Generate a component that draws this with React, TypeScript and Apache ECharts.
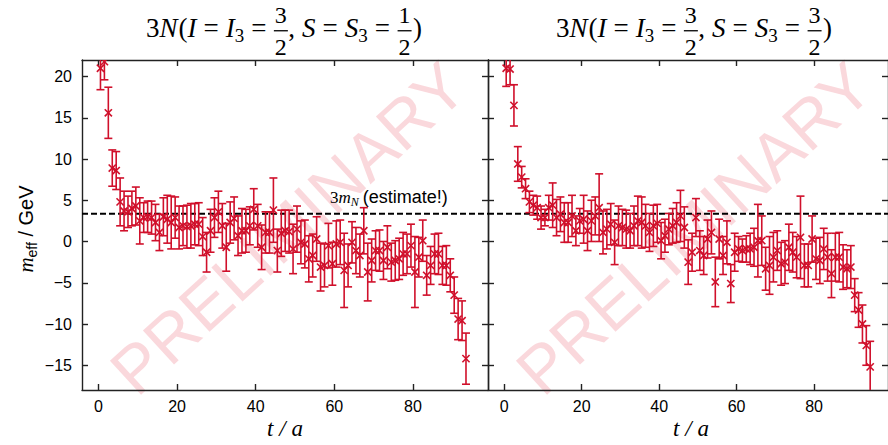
import React, { useEffect, useRef } from "react";
import * as echarts from "echarts";

// ---- axes ----
const X_MIN = -4.2;
const X_MAX = 99.1;
const Y_MIN = -18;
const Y_MAX = 22;
const X_TICKS = [0, 20, 40, 60, 80];
const Y_TICKS = [-15, -10, -5, 0, 5, 10, 15, 20];
const T_OFFSET = 0.5; // effective mass plotted at t + 1/2
const ESTIMATE_3MN = 3.35; // GeV

// ---- left panel: 3N(I=I3=3/2, S=S3=1/2) ----
const leftValues = [
  21.0, 21.8, 15.6, 8.9, 8.6, 4.8, 3.7, 3.6, 4.0, 4.3,
  2.5, 2.9, 3.0, 2.9, 2.3, 1.1, 3.0, 2.7, 2.3, 2.9,
  1.7, 1.9, 1.8, 1.9, 2.1, 2.1, 0.6, -1.3, 1.3, 2.9,
  3.6, 1.9, -0.7, 2.3, 2.8, 0.7, 1.3, 1.3, 1.9, 3.9,
  1.9, -0.7, 1.1, 1.1, 3.8, -1.1, 1.0, 1.3, 1.2, -0.9,
  1.5, -0.1, -0.3, -2.1, -1.7, 0.3, -3.1, -2.9, -0.5, -2.7,
  -0.3, -0.1, -3.5, -2.9, -0.1, -1.1, -1.7, 1.3, -3.7, -2.3,
  -1.1, -1.1, -2.3, -0.7, -2.5, -2.3, -2.1, -1.5, -1.5, -0.5,
  -3.7, -1.9, 0.1, -4.1, -2.9, -1.5, -1.5, -2.9, -2.9, -4.1,
  -6.5, -9.4, -9.6, -14.2,
];
const leftErrors = [
  2.6, 2.2, 3.1, 2.2, 2.3, 2.9, 2.4, 1.9, 2.1, 2.3,
  2.8, 1.8, 1.9, 2.0, 2.2, 2.2, 2.3, 2.9, 3.2, 2.5,
  2.6, 2.4, 2.6, 2.7, 2.5, 2.6, 2.3, 2.4, 2.6, 2.4,
  2.5, 2.7, 2.9, 2.5, 2.6, 2.4, 2.7, 2.6, 2.3, 2.5,
  2.6, 2.7, 2.5, 2.5, 3.9, 2.6, 2.8, 2.5, 2.6, 3.0,
  2.8, 2.6, 2.9, 2.8, 2.6, 2.7, 2.9, 2.6, 2.7, 2.6,
  2.8, 2.7, 4.5, 2.6, 2.5, 2.8, 2.6, 2.8, 3.5, 2.6,
  2.4, 2.5, 2.3, 2.6, 2.3, 2.4, 2.5, 2.6, 2.4, 2.6,
  4.3, 2.4, 2.5, 2.4, 2.3, 2.4, 2.5, 2.3, 2.4, 2.0,
  2.2, 2.5, 2.4, 3.1,
];

// ---- right panel: 3N(I=I3=3/2, S=S3=3/2) ----
const rightValues = [
  21.0, 20.9, 16.5, 9.4, 7.8, 6.4, 4.8, 4.4, 4.1, 2.9,
  2.9, 4.1, 4.4, 2.9, 3.3, 2.3, 2.3, 3.1, 1.3, 2.5,
  2.7, 1.3, 2.5, 3.1, 4.1, 1.1, 1.5, 2.1, -0.1, 1.9,
  1.7, 1.5, 1.3, 1.9, 2.5, 2.3, 1.9, 1.1, 1.9, 2.2,
  0.1, 0.7, 1.5, 1.9, 2.3, 3.1, 1.7, -2.5, -1.3, 2.9,
  -1.1, -1.7, 0.3, 1.1, -4.9, 0.3, -1.7, -0.1, -5.1, -1.3,
  -0.9, -1.1, -0.9, -0.9, -0.7, 0.1, 0.1, -3.3, -2.9, -1.9,
  -1.1, -2.7, -2.5, -0.7, -1.3, -1.9, 0.5, -2.9, -2.9, 0.3,
  -2.1, -2.3, -0.9, -1.9, -3.9, -1.9, -1.9, -3.1, -3.3, -3.1,
  -6.5, -8.3, -10.0, -12.6, -15.2,
];
const rightErrors = [
  2.2, 1.9, 2.5, 2.1, 1.3, 1.2, 1.3, 1.2, 1.4, 1.4,
  1.0, 1.5, 2.7, 2.2, 2.1, 2.4, 2.4, 2.5, 1.8, 1.5,
  2.9, 2.4, 2.5, 2.3, 4.1, 2.6, 2.4, 2.5, 2.7, 2.4,
  2.2, 2.3, 2.1, 2.4, 3.0, 3.1, 2.6, 2.3, 2.5, 2.3,
  2.2, 2.0, 1.9, 2.1, 2.4, 3.1, 2.5, 2.7, 2.3, 2.3,
  2.4, 2.3, 2.3, 2.6, 3.0, 2.4, 2.3, 2.6, 2.3, 2.3,
  1.5, 1.4, 1.6, 1.9, 2.3, 4.4, 3.0, 2.6, 3.5, 3.0,
  2.4, 2.6, 2.6, 2.8, 2.4, 2.5, 5.0, 2.6, 2.6, 2.8,
  2.5, 2.8, 2.5, 2.9, 2.9, 2.9, 3.0, 2.7, 2.3, 2.6,
  2.0, 2.1, 2.3, 2.4, 3.1,
];

const RED = "#d0102b";
const SERIF = "Liberation Serif";
const SANS = "Liberation Sans";

type Tok =
  | { kind: "t"; text: string; size: number; family: string; italic?: boolean; dy?: number; gap?: number }
  | { kind: "frac"; num: string; den: string; size: number; family: string; gap?: number };

const t = (text: string, size: number, family: string, italic = false, dy = 0, gap = 0): Tok => ({
  kind: "t", text, size, family, italic, dy, gap,
});
const frac = (num: string, den: string, size: number, gap = 0): Tok => ({
  kind: "frac", num, den, size, family: SERIF, gap,
});

let measureCtx: CanvasRenderingContext2D | null = null;
function textWidth(text: string, size: number, family: string, italic?: boolean) {
  if (!measureCtx) measureCtx = document.createElement("canvas").getContext("2d");
  if (!measureCtx) return text.length * size * 0.5;
  measureCtx.font = `${italic ? "italic " : ""}${size}px "${family}"`;
  return measureCtx.measureText(text).width;
}

function textEl(text: string, x: number, baseline: number, size: number, family: string, italic: boolean | undefined, fill: string, align = "left") {
  return {
    type: "text",
    x,
    y: baseline - 0.34 * size,
    style: {
      text,
      fontSize: size,
      fontFamily: family,
      fontStyle: italic ? "italic" : "normal",
      fill,
      align,
      verticalAlign: "middle",
      textAlign: align,
      textVerticalAlign: "middle",
    },
  };
}

function buildInline(tokens: Tok[], anchorX: number, baseline: number, fill: string, anchor: "left" | "center" = "center") {
  const items: { tok: Tok; x: number; w: number }[] = [];
  let x = 0;
  for (const tok of tokens) {
    let w = 0;
    if (tok.kind === "t") w = textWidth(tok.text, tok.size, tok.family, tok.italic);
    else w = Math.max(textWidth(tok.num, tok.size, tok.family), textWidth(tok.den, tok.size, tok.family)) + 3;
    items.push({ tok, x, w });
    x += w + (tok.gap || 0);
  }
  const total = x;
  const x0 = anchor === "center" ? anchorX - total / 2 : anchorX;
  const els: any[] = [];
  for (const it of items) {
    const tok = it.tok;
    if (tok.kind === "t") {
      els.push(textEl(tok.text, x0 + it.x, baseline + (tok.dy || 0), tok.size, tok.family, tok.italic, fill));
    } else {
      const cx = x0 + it.x + it.w / 2;
      els.push(textEl(tok.num, cx, baseline - 13.4, tok.size, tok.family, false, fill, "center"));
      els.push({
        type: "rect",
        shape: { x: x0 + it.x + 0.5, y: baseline - 6.6, width: it.w - 1, height: 1.3 },
        style: { fill },
      });
      els.push(textEl(tok.den, cx, baseline + 18.3, tok.size, tok.family, false, fill, "center"));
    }
  }
  return els;
}

function titleTokens(sNum: string): Tok[] {
  const S = 27;
  const g = 7;
  return [
    t("3", S, SERIF),
    t("N", S, SERIF, true, 0, 1),
    t("(", S, SERIF),
    t("I", S, SERIF, true, 0, g),
    t("=", S, SERIF, false, 0, g),
    t("I", S, SERIF, true),
    t("3", 19, SERIF, false, 5, g),
    t("=", S, SERIF, false, 0, g),
    frac("3", "2", 24),
    t(",", S, SERIF, false, 0, 7),
    t("S", S, SERIF, true, 0, g),
    t("=", S, SERIF, false, 0, g),
    t("S", S, SERIF, true),
    t("3", 19, SERIF, false, 5, g),
    t("=", S, SERIF, false, 0, g),
    frac(sNum, "2", 24, 1),
    t(")", S, SERIF),
  ];
}

function makeData(values: number[], errors: number[]) {
  return values.map((v, i) => [i + T_OFFSET, v, errors[i]]);
}

function errRender(params: any, api: any) {
  const x = api.value(0);
  const y = api.value(1);
  const e = api.value(2);
  const p = api.coord([x, y]);
  const top = api.coord([x, y + e]);
  const bot = api.coord([x, y - e]);
  const cap = 4;
  const m = 3.6;
  const style = { stroke: RED, lineWidth: 1.6, fill: "none" };
  return {
    type: "group",
    children: [
      { type: "line", shape: { x1: p[0], y1: top[1], x2: p[0], y2: bot[1] }, style },
      { type: "line", shape: { x1: p[0] - cap, y1: top[1], x2: p[0] + cap, y2: top[1] }, style },
      { type: "line", shape: { x1: p[0] - cap, y1: bot[1], x2: p[0] + cap, y2: bot[1] }, style },
      { type: "line", shape: { x1: p[0] - m, y1: p[1] - m, x2: p[0] + m, y2: p[1] + m }, style },
      { type: "line", shape: { x1: p[0] - m, y1: p[1] + m, x2: p[0] + m, y2: p[1] - m }, style },
    ],
  };
}

const AXIS_COLOR = "#222";

function xAxisDef(gridIndex: number, position: "bottom" | "top", labels: boolean) {
  return {
    type: "value",
    gridIndex,
    position,
    min: X_MIN,
    max: X_MAX,
    axisLine: { show: true, onZero: false, lineStyle: { color: AXIS_COLOR, width: 1.4 } },
    axisTick: { show: true, inside: true, length: 6, customValues: X_TICKS, lineStyle: { color: AXIS_COLOR, width: 1.4 } },
    axisLabel: {
      show: labels,
      customValues: X_TICKS,
      fontSize: 16,
      fontFamily: SANS,
      color: "#000",
      margin: 8,
    },
    splitLine: { show: false },
  };
}

function yAxisDef(gridIndex: number, position: "left" | "right", labels: boolean) {
  return {
    type: "value",
    gridIndex,
    position,
    min: Y_MIN,
    max: Y_MAX,
    axisLine: { show: true, onZero: false, lineStyle: { color: AXIS_COLOR, width: 1.4 } },
    axisTick: { show: true, inside: true, length: 6, customValues: Y_TICKS, lineStyle: { color: AXIS_COLOR, width: 1.4 } },
    axisLabel: {
      show: labels,
      customValues: Y_TICKS,
      fontSize: 16,
      fontFamily: SANS,
      color: "#000",
      margin: 10,
      formatter: (v: number) => (v < 0 ? "\u2212" + Math.abs(v) : String(v)),
    },
    splitLine: { show: false },
  };
}

export default function App() {
  const ref = useRef<HTMLDivElement>(null);

  useEffect(() => {
    if (!ref.current) return;
    const chart = echarts.init(ref.current, undefined, { renderer: "svg" });

    const watermarkStyle = {
      text: "PRELIMINARY",
      fontSize: 67,
      fontFamily: SANS,
      fill: "rgba(228, 40, 60, 0.18)",
      align: "center",
      verticalAlign: "middle",
      textAlign: "center",
      textVerticalAlign: "middle",
    };
    const rot = (42.5 * Math.PI) / 180;

    const yLabel = {
      type: "group",
      x: 33,
      y: 229,
      rotation: Math.PI / 2,
      children: buildInline(
        [t("m", 21, SERIF, true), t("eff", 14, SANS, false, 4, 0), t(" / GeV", 20, SANS)],
        0,
        0,
        "#000",
        "center"
      ),
      z: 10,
    };

    const graphic: any[] = [
      { type: "text", x: 288, y: 228, rotation: rot, style: watermarkStyle, z: -10, silent: true },
      { type: "text", x: 694, y: 228, rotation: rot, style: watermarkStyle, z: -10, silent: true },
      ...buildInline(titleTokens("1"), 284, 36.7, "#000", "center"),
      ...buildInline(titleTokens("3"), 694, 36.7, "#000", "center"),
      ...buildInline([t("t / a", 23, SERIF, true)], 285, 436, "#000", "center"),
      ...buildInline([t("t / a", 23, SERIF, true)], 691, 436, "#000", "center"),
      ...buildInline(
        [t("3", 17, SERIF), t("m", 17, SERIF, true), t("N", 12, SERIF, true, 3, 4), t("(estimate!)", 18, SANS)],
        330,
        203.5,
        "#000",
        "left"
      ),
      yLabel,
    ];

    const dashed = (xi: number, yi: number) => ({
      type: "line",
      xAxisIndex: xi,
      yAxisIndex: yi,
      data: [
        [X_MIN, ESTIMATE_3MN],
        [X_MAX, ESTIMATE_3MN],
      ],
      symbol: "none",
      silent: true,
      lineStyle: { color: "#000", width: 2, type: [6, 3] },
      z: 3,
    });

    chart.setOption({
      animation: false,
      backgroundColor: "#fff",
      grid: [
        { left: 82, top: 60, width: 406, height: 330 },
        { left: 488, top: 60, width: 406, height: 330 },
      ],
      xAxis: [
        xAxisDef(0, "bottom", true),
        xAxisDef(0, "top", false),
        xAxisDef(1, "bottom", true),
        xAxisDef(1, "top", false),
      ],
      yAxis: [
        yAxisDef(0, "left", true),
        yAxisDef(0, "right", false),
        yAxisDef(1, "left", false),
        yAxisDef(1, "right", false),
      ],
      series: [
        dashed(0, 0),
        dashed(2, 2),
        {
          type: "custom",
          xAxisIndex: 0,
          yAxisIndex: 0,
          data: makeData(leftValues, leftErrors),
          renderItem: errRender,
          encode: { x: 0, y: 1 },
          clip: true,
          z: 4,
        },
        {
          type: "custom",
          xAxisIndex: 2,
          yAxisIndex: 2,
          data: makeData(rightValues, rightErrors),
          renderItem: errRender,
          encode: { x: 0, y: 1 },
          clip: true,
          z: 4,
        },
      ],
      graphic,
    });

    return () => chart.dispose();
  }, []);

  return (
    <div
      ref={ref}
      style={{ position: "fixed", left: 0, top: 0, width: 888, height: 445, background: "#fff" }}
    />
  );
}
